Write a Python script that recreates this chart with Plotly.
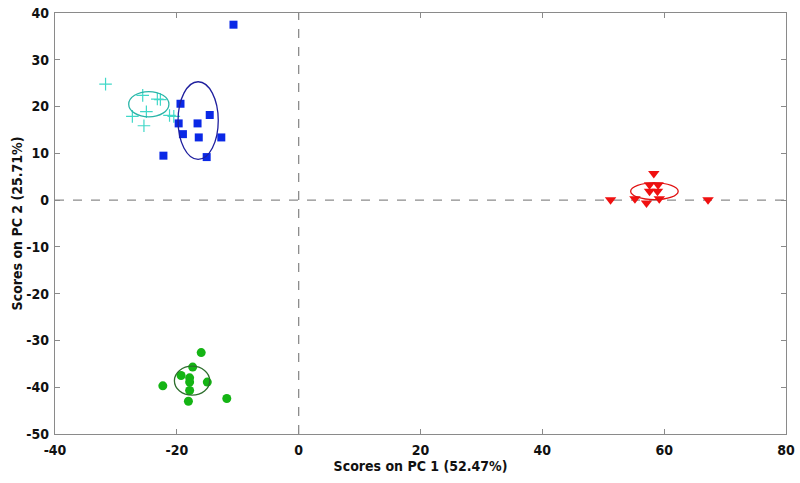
import plotly.graph_objects as go

# Scores
blue_x = [-10.7, -19.4, -14.6, -19.7, -16.6, -19.0, -16.4, -12.7, -22.2, -15.1]
blue_y = [37.5, 20.6, 18.2, 16.4, 16.4, 14.1, 13.4, 13.4, 9.5, 9.2]

cyan_x = [-31.7, -25.6, -23.2, -22.7, -25.0, -27.3, -21.2, -20.5, -25.4]
cyan_y = [24.8, 22.4, 21.6, 21.5, 18.9, 17.9, 18.1, 17.9, 15.9]

red_x = [58.3, 57.6, 59.0, 57.6, 58.9, 51.2, 55.2, 57.1, 59.2, 67.2]
red_y = [5.7, 3.3, 3.3, 1.9, 1.9, 0.1, 0.3, -0.6, 0.3, 0.1]

green_x = [-16.0, -17.4, -19.3, -17.9, -17.9, -15.0, -22.3, -17.9, -18.1, -11.8]
green_y = [-32.6, -35.7, -37.5, -38.0, -38.9, -38.9, -39.7, -40.7, -43.0, -42.4]

# Confidence ellipses: centre x, centre y, semi-axis x, semi-axis y
ell_cx = [-16.5, -24.6, 58.4, -17.5]
ell_cy = [17.0, 20.5, 1.9, -38.6]
ell_ax = [3.3, 3.3, 3.9, 2.9]
ell_ay = [8.3, 2.7, 1.8, 3.1]
ell_col = ["#1f1f9e", "#2ab5a8", "#e01010", "#2d6e2d"]

x_ticks = [-40, -20, 0, 20, 40, 60, 80]
y_ticks = [40, 30, 20, 10, 0, -10, -20, -30, -40, -50]

fig = go.Figure()
fig.add_trace(go.Scatter(x=cyan_x, y=cyan_y, mode="markers",
                         marker=dict(symbol="cross-thin", size=9, color="#40d8c8",
                                     line=dict(color="#40d8c8", width=1.2))))
fig.add_trace(go.Scatter(x=blue_x, y=blue_y, mode="markers",
                         marker=dict(symbol="square", size=8, color="#0a28e6")))
fig.add_trace(go.Scatter(x=red_x, y=red_y, mode="markers",
                         marker=dict(symbol="triangle-down", size=10, color="#f01010")))
fig.add_trace(go.Scatter(x=green_x, y=green_y, mode="markers",
                         marker=dict(symbol="circle", size=9, color="#14b414")))

# dashed zero lines
fig.add_shape(type="line", x0=0, x1=0, y0=-50, y1=40, xref="x", yref="y",
              line=dict(color="#8c8c8c", width=1.3, dash="dash"), layer="below")
fig.add_shape(type="line", x0=-40, x1=80, y0=0, y1=0, xref="x", yref="y",
              line=dict(color="#8c8c8c", width=1.3, dash="dash"), layer="below")

for cx, cy, ax, ay, col in zip(ell_cx, ell_cy, ell_ax, ell_ay, ell_col):
    fig.add_shape(type="circle", xref="x", yref="y",
                  x0=cx - ax, x1=cx + ax, y0=cy - ay, y1=cy + ay,
                  line=dict(color=col, width=1.3))

fam = "DejaVu Sans Condensed, Liberation Sans Narrow, Arial Narrow, Liberation Sans, Arial"
tick_font = dict(family=fam, size=14, color="#111111", weight="bold")
axis_common = dict(showgrid=False, zeroline=False, showline=True, linecolor="#8a8a8a",
                   linewidth=1.2, mirror="ticks", ticks="inside", ticklen=5,
                   tickcolor="#8a8a8a", tickfont=tick_font, automargin=False,
                   ticklabeloverflow="allow")

fig.update_layout(
    width=800, height=483,
    margin=dict(l=55, r=14, t=13, b=49),
    paper_bgcolor="white", plot_bgcolor="white",
    showlegend=False,
    xaxis=dict(range=[-40, 80], tickvals=x_ticks, ticktext=[str(v) for v in x_ticks],
               ticklabelstandoff=3,
               title=dict(text="Scores on PC 1 (52.47%)", font=tick_font, standoff=0),
               **axis_common),
    yaxis=dict(range=[-50, 40], tickvals=y_ticks, ticktext=[str(v) for v in y_ticks],
               ticklabelstandoff=2,
               title=dict(text="Scores on PC 2 (25.71%)", font=tick_font, standoff=0),
               **axis_common),
)

# remove the browser's default 8px page margin so the figure sits at the window's corner
fig.write_html("out.html", config={"displayModeBar": False},
               post_script="document.body.style.margin='0';document.body.style.overflow='hidden';")
